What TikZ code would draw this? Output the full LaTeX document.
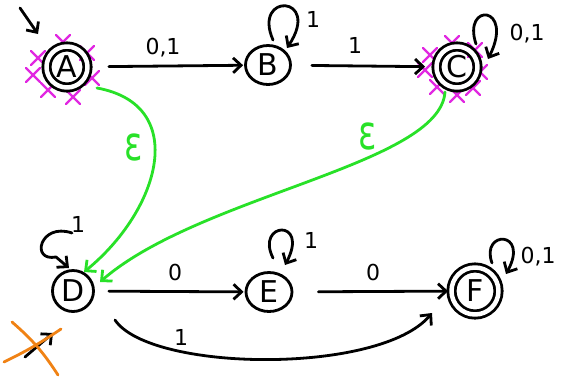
\documentclass[tikz,border=0pt]{standalone}
\usepackage{fontspec}
\setmainfont{DejaVu Sans}
\usetikzlibrary{arrows.meta,shapes.geometric}
\definecolor{epsgreen}{RGB}{40,225,40}
\definecolor{xpink}{RGB}{225,40,225}
\definecolor{strikeorange}{RGB}{240,130,20}
\tikzset{
  pen/.style={line width=2.8pt, line cap=round, line join=round},
  tip/.style={-{Straight Barb[length=8pt,width=15pt,line width=2.8pt]}},
  state/.style={draw, pen, ellipse, inner sep=0pt, font=\fontsize{30}{30}\selectfont},
  accept/.style={state, circle, double, double distance=4.5pt, minimum size=41pt},
  lbl/.style={font=\fontsize{22}{22}\selectfont, inner sep=0pt},
  epslbl/.style={text=epsgreen, font=\fontsize{34}{34}\selectfont, inner sep=0pt},
  xmark/.style={draw=xpink, line width=2.2pt, line cap=round},
}
\begin{document}
\begin{tikzpicture}[x=1pt,y=-1pt]
\useasboundingbox[fill=white] (0,0) rectangle (570,381);

% struck-through marks around A and C
\foreach \p in {(63,42),(87,53),(38,58),(92,78),(33,75),(48,90),(73,97)} {
  \draw[xmark] \p ++(-7,-7) -- ++(14,14) \p ++(-7,7) -- ++(14,-14);
}
\foreach \p in {(452,43),(430,55),(475,50),(425,70),(480,72),(437,87),(457,95),(473,88)} {
  \draw[xmark] \p ++(-7,-7) -- ++(14,14) \p ++(-7,7) -- ++(14,-14);
}

% states
\node[accept] (A) at (67,67) {A};
\node[state, minimum width=45pt, minimum height=39pt] (B) at (268,65) {B};
\node[accept] (C) at (457,67) {C};
\node[state, minimum width=41pt, minimum height=41pt] (D) at (73,291) {D};
\node[state, minimum width=46pt, minimum height=39pt] (E) at (269,292) {E};
\node[accept, minimum size=47pt] (F) at (475,291) {F};

% start arrow into A
\coordinate (s0) at (20,8);
\coordinate (s1) at (38,34);
\draw[pen, tip] (s0) -- (s1);

% crossed-out start arrow at D
\coordinate (t0) at (25,357);
\coordinate (t1) at (53,333);
\draw[pen, tip] (t0) -- (t1);
\coordinate (o1) at (12,322); \coordinate (o2) at (58,375);
\coordinate (o3) at (4,362);  \coordinate (o4) at (61,329);
\draw[strikeorange, pen] (o1) to[bend left=8] (o2);
\draw[strikeorange, pen] (o3) to[bend right=4] (o4);

% transitions
\draw[pen, tip, shorten <=20pt, shorten >=1pt] (A) -- (B);
\node[lbl] at (163,48) {0,1};
\draw[pen, tip, shorten <=20pt, shorten >=10pt] (B) -- (C);
\node[lbl] at (355,45) {1};
\draw[pen, tip, shorten <=14pt, shorten >=1pt] (D) -- (E);
\node[lbl] at (175,272) {0};
\draw[pen, tip, shorten <=25pt, shorten >=2pt] (E) -- (F);
\node[lbl] at (373,272) {0};
\coordinate (dfOut) at (115,320);
\coordinate (dfIn) at (432,313);
\draw[pen, tip] (dfOut) .. controls (150,372) and (380,375) .. (dfIn);
\node[lbl] at (181,337) {1};

% epsilon moves
\coordinate (adOut) at (97,88);
\coordinate (adIn) at (84,272);
\draw[epsgreen, pen, tip] (adOut) .. controls (190,105) and (160,210) .. (adIn);
\node[epslbl] at (134,147) {\scalebox{1}[1.4]{ε}};
\coordinate (cdOut) at (445,92);
\coordinate (cdIn) at (100,282);
\draw[epsgreen, pen, tip] (cdOut) .. controls (440,165) and (200,195) .. (cdIn);
\node[epslbl] at (368,136) {\scalebox{1}[1.4]{ε}};

% self loops
\coordinate (bl0) at (273,40);  \coordinate (bl1) at (287,48);
\draw[pen, tip] (bl0) .. controls (252,-8) and (322,-5) .. (bl1);
\node[lbl] at (313,19) {1};
\coordinate (cl0) at (476,44);  \coordinate (cl1) at (488,59);
\draw[pen, tip] (cl0) .. controls (462,2) and (515,5) .. (cl1);
\node[lbl] at (527,34) {0,1};
\coordinate (dl0) at (72,233);  \coordinate (dl1) at (56,257); \coordinate (dl2) at (69,268);
\draw[pen, tip] (dl0) .. controls (40,222) and (30,262) .. (dl1) -- (dl2);
\node[lbl] at (78,224) {1};
\coordinate (el0) at (273,258); \coordinate (el1) at (285,265);
\draw[pen, tip] (el0) .. controls (255,222) and (310,218) .. (el1);
\node[lbl] at (311,240) {1};
\coordinate (fl0) at (492,263); \coordinate (fl1) at (506,274);
\draw[pen, tip] (fl0) .. controls (480,230) and (530,230) .. (fl1);
\node[lbl] at (538,257) {0,1};
\end{tikzpicture}
\end{document}
